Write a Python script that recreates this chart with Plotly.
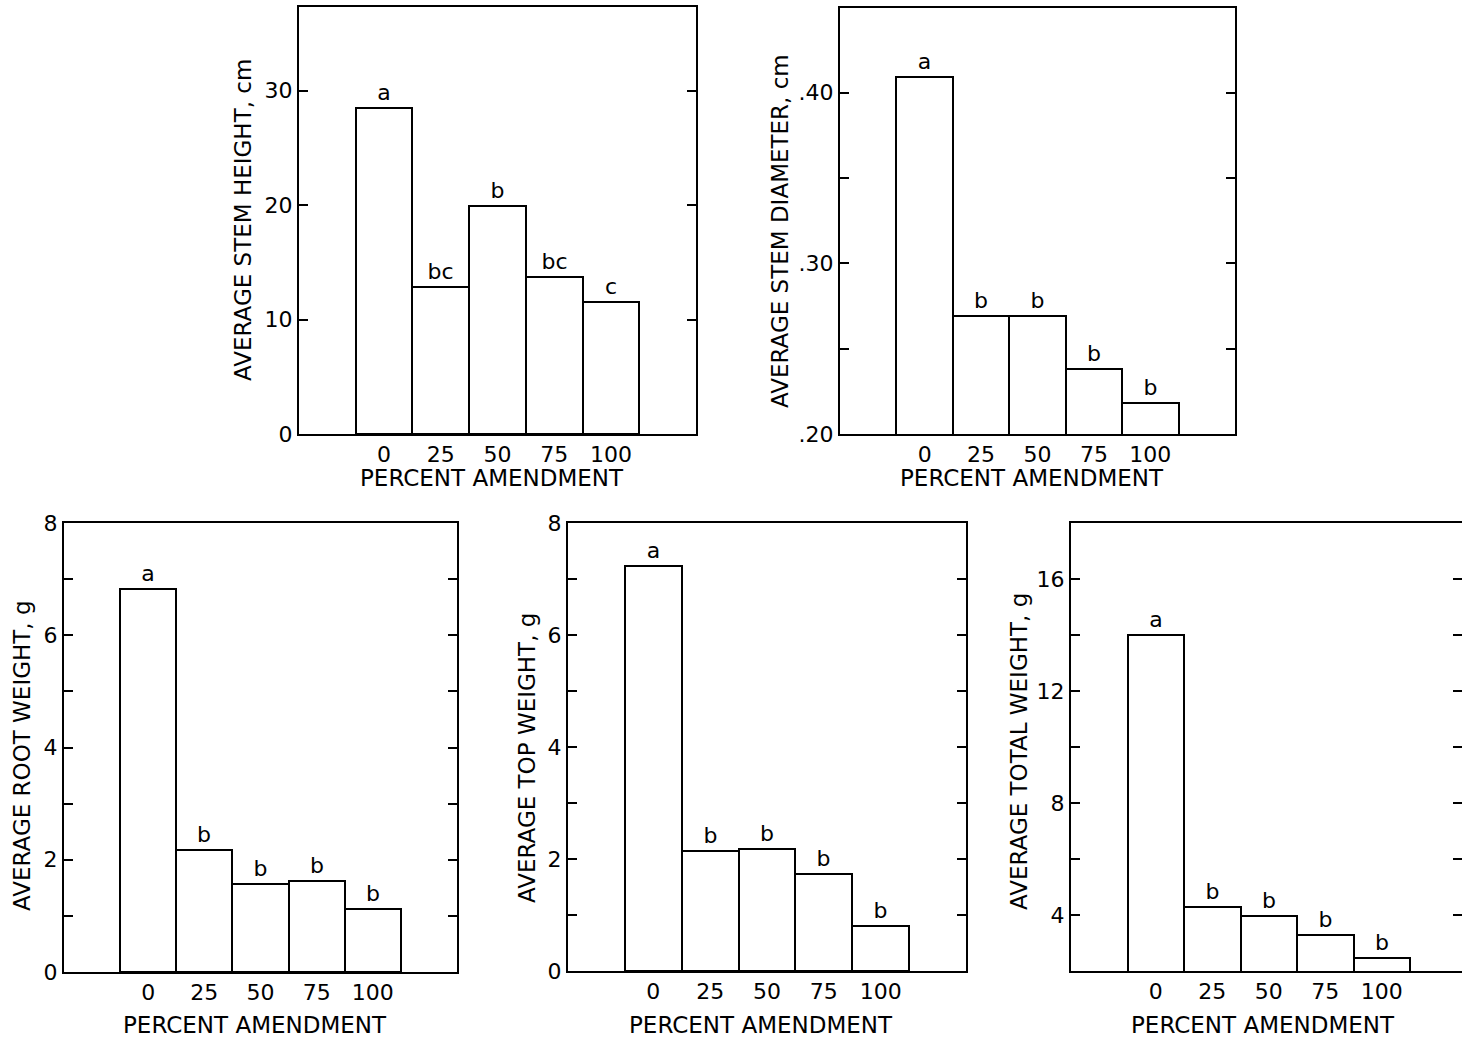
import plotly.graph_objects as go

# ---------------- data ----------------
categories = ["0", "25", "50", "75", "100"]

stem_height = [28.5, 12.8, 19.9, 13.7, 11.5]
stem_height_letters = ["a", "bc", "b", "bc", "c"]

stem_diameter = [0.409, 0.269, 0.269, 0.238, 0.218]
stem_diameter_letters = ["a", "b", "b", "b", "b"]

root_weight = [6.82, 2.18, 1.57, 1.62, 1.12]
root_weight_letters = ["a", "b", "b", "b", "b"]

top_weight = [7.23, 2.14, 2.17, 1.74, 0.80]
top_weight_letters = ["a", "b", "b", "b", "b"]

total_weight = [14.0, 4.29, 3.96, 3.30, 2.46]
total_weight_letters = ["a", "b", "b", "b", "b"]

x_title = "PERCENT AMENDMENT"
y_titles = [
    "AVERAGE STEM HEIGHT, cm",
    "AVERAGE STEM DIAMETER, cm",
    "AVERAGE ROOT WEIGHT, g",
    "AVERAGE TOP WEIGHT, g",
    "AVERAGE TOTAL WEIGHT, g",
]

# y tick positions / labels
ytick_vals = [
    [0, 10, 20, 30],
    [0.20, 0.25, 0.30, 0.35, 0.40],
    [0, 1, 2, 3, 4, 5, 6, 7, 8],
    [0, 1, 2, 3, 4, 5, 6, 7, 8],
    [4, 6, 8, 10, 12, 14, 16],
]
ytick_text = [
    ["0", "10", "20", "30"],
    [".20", "", ".30", "", ".40"],
    ["0", "", "2", "", "4", "", "6", "", "8"],
    ["0", "", "2", "", "4", "", "6", "", "8"],
    ["4", "", "8", "", "12", "", "16"],
]

# ---------------- layout geometry (pixels) ----------------
W, H = 1462, 1041
panels = [
    dict(x=(299, 696), y=(7, 434), yr=[0, 37.3], xr=[-1.5, 5.5], ytx=243, yty=220, xty=478),
    dict(x=(840, 1235), y=(8, 434), yr=[0.2, 0.4496], xr=[-1.5, 5.5], ytx=780, yty=231, xty=478),
    dict(x=(64, 457), y=(523, 972), yr=[0, 8], xr=[-1.5, 5.5], ytx=22, yty=756, xty=1025),
    dict(x=(568, 966), y=(523, 971), yr=[0, 8], xr=[-1.5, 5.5], ytx=527, yty=758, xty=1025),
    dict(x=(1071, 1462), y=(523, 971), yr=[2, 18], xr=[-1.5, 5.42], ytx=1019, yty=752, xty=1025),
]

values = [stem_height, stem_diameter, root_weight, top_weight, total_weight]
letters = [stem_height_letters, stem_diameter_letters, root_weight_letters,
           top_weight_letters, total_weight_letters]

FONT = "DejaVu Sans"
fig = go.Figure()
annotations = []
xpos = list(range(len(categories)))

for i, (p, vals, lets) in enumerate(zip(panels, values, letters)):
    n = "" if i == 0 else str(i + 1)
    xa, ya = "x" + n, "y" + n
    last = (i == len(panels) - 1)
    fig.add_trace(go.Bar(
        x=xpos, y=vals, width=1.0,
        text=lets, textposition="outside",
        textfont=dict(family=FONT, size=22, color="black"),
        constraintext="none",
        marker=dict(color="white", line=dict(color="black", width=2)),
        xaxis=xa, yaxis=ya, showlegend=False, hoverinfo="skip",
    ))
    xdom = [p["x"][0] / W, p["x"][1] / W]
    ydom = [1 - p["y"][1] / H, 1 - p["y"][0] / H]
    fig.layout["xaxis" + n] = dict(
        domain=xdom, range=p["xr"], anchor=ya, automargin=False,
        tickvals=xpos, ticktext=categories, ticks="",
        showline=True, linecolor="black", linewidth=2, mirror=True,
        showgrid=False, zeroline=False,
        tickfont=dict(family=FONT, size=22, color="black"),
    )
    fig.layout["yaxis" + n] = dict(
        domain=ydom, range=p["yr"], anchor=xa, automargin=False,
        tickvals=ytick_vals[i], ticktext=ytick_text[i],
        ticks="inside", ticklen=9, tickwidth=2, tickcolor="black",
        showline=True, linecolor="black", linewidth=2,
        mirror=(False if last else "ticks"),
        showgrid=False, zeroline=False,
        tickfont=dict(family=FONT, size=22, color="black"),
    )
    if last:
        # right-side ticks only (the right border is cut off in the original)
        fig.layout["yaxis6"] = dict(
            domain=ydom, range=p["yr"], anchor=xa, overlaying=ya, side="right",
            automargin=False, tickvals=ytick_vals[i], showticklabels=False,
            ticks="inside", ticklen=9, tickwidth=2, tickcolor="black",
            showline=False, showgrid=False, zeroline=False,
        )
    annotations.append(dict(
        text=y_titles[i], textangle=-90, showarrow=False,
        xref="paper", yref="paper",
        x=p["ytx"] / W, y=1 - p["yty"] / H, xanchor="center", yanchor="middle",
        font=dict(family=FONT, size=23, color="black"),
    ))
    annotations.append(dict(
        text=x_title, showarrow=False,
        xref=xa, yref="paper",
        x=1.9, y=1 - p["xty"] / H, xanchor="center", yanchor="middle",
        font=dict(family=FONT, size=23, color="black"),
    ))

# invisible trace to activate the right-side tick axis of the last panel
fig.add_trace(go.Scatter(x=[0], y=[total_weight[0]], xaxis="x5", yaxis="y6",
                         mode="markers", marker=dict(opacity=0),
                         showlegend=False, hoverinfo="skip"))

fig.update_layout(
    template="none",
    width=W, height=H,
    margin=dict(l=0, r=0, t=0, b=0, pad=0, autoexpand=False),
    paper_bgcolor="white", plot_bgcolor="white",
    bargap=0,
    annotations=annotations,
)

fig.write_html("out.html", config={"displayModeBar": False},
               post_script="document.body.style.margin='0';")
